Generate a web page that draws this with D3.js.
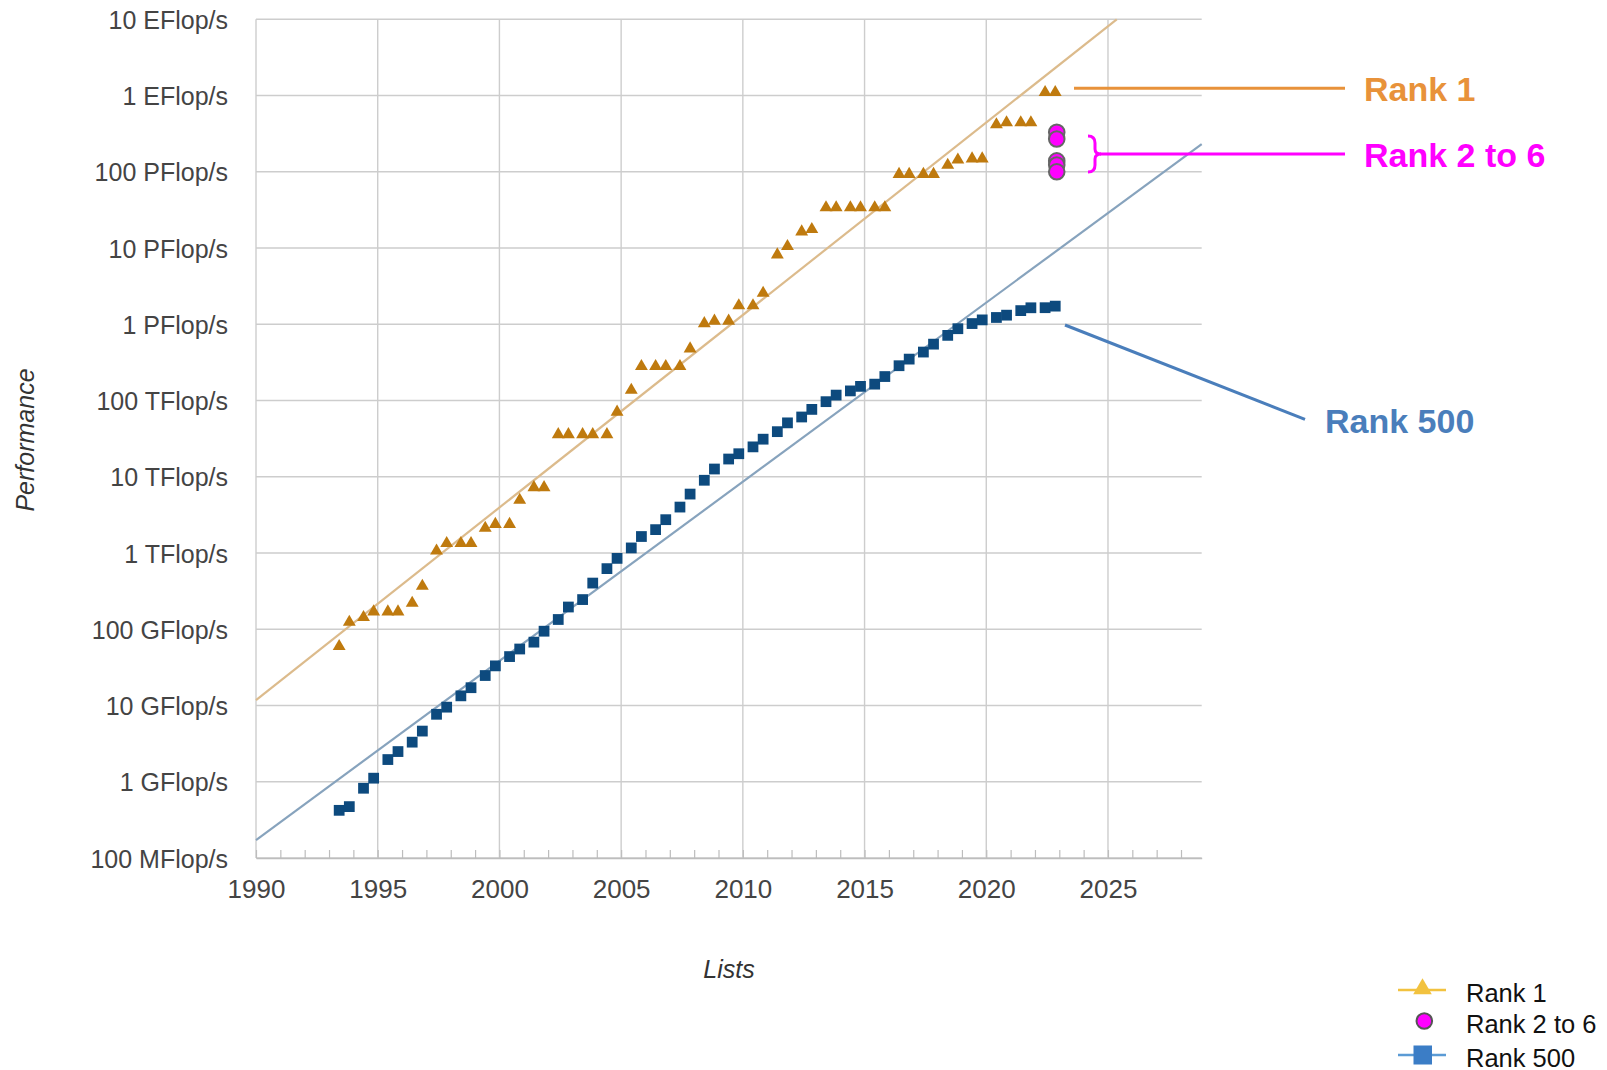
<!DOCTYPE html>
<html><head><meta charset="utf-8">
<script src="https://cdn.jsdelivr.net/npm/d3@7"></script>
<style>
body{margin:0;background:#fff;}
svg{display:block;font-family:"Liberation Sans",Arial,sans-serif;}
</style>
</head><body>
<svg id="chart" width="1607" height="1070"></svg>
<script>
// ---------- data ----------
const lists = ["1993-06","1993-11","1994-06","1994-11","1995-06","1995-11","1996-06","1996-11","1997-06","1997-11",
"1998-06","1998-11","1999-06","1999-11","2000-06","2000-11","2001-06","2001-11","2002-06","2002-11",
"2003-06","2003-11","2004-06","2004-11","2005-06","2005-11","2006-06","2006-11","2007-06","2007-11",
"2008-06","2008-11","2009-06","2009-11","2010-06","2010-11","2011-06","2011-11","2012-06","2012-11",
"2013-06","2013-11","2014-06","2014-11","2015-06","2015-11","2016-06","2016-11","2017-06","2017-11",
"2018-06","2018-11","2019-06","2019-11","2020-06","2020-11","2021-06","2021-11","2022-06","2022-11"];
// GFlop/s
const rank1 = [59.7,124,143.4,170,170,170,220.4,368.2,1068,1338,
1338,1338,2121,2379,2379,4938,7226,7226,35860,35860,
35860,35860,35860,70720,136800,280600,280600,280600,280600,478200,
1026000,1105000,1105000,1759000,1759000,2566000,8162000,10510000,16320000,17590000,
33860000,33860000,33860000,33860000,33860000,33860000,93010000,93010000,93010000,93010000,
122300000,143500000,148600000,148600000,415530000,442010000,442010000,442010000,1102000000,1102000000];
const rank500 = [0.4219,0.472,0.822,1.114,1.955,2.489,3.306,4.619,7.67,9.513,
13.39,17.12,24.73,33.11,43.82,55.09,67.78,94.3,134.3,195.8,
245.1,403.4,624,850.6,1166,1646,2026,2737,4005,5929,
9000,12640,17090,20050,24670,31120,39060,50940,60820,76500,
96620,117800,133700,153400,164000,206300,286100,349300,432200,548700,
715600,874800,1022000,1142000,1228000,1317000,1511000,1646000,1650000,1730000];
const rank2to6List = "2022-11";
const rank2to6 = [330e6, 269e6, 139e6, 123e6, 100e6];
// trend lines: [year, GFlop/s]
const rank1Trend = [[1990, 11.8], [2025.36, 1e10]];
const rank500Trend = [[1990, 0.172], [2028.85, 2.31e8]];
const yTickValues = [0.1,1,10,100,1e3,1e4,1e5,1e6,1e7,1e8,1e9,1e10];
const yTickLabels = ["100 MFlop/s","1 GFlop/s","10 GFlop/s","100 GFlop/s","1 TFlop/s","10 TFlop/s","100 TFlop/s","1 PFlop/s","10 PFlop/s","100 PFlop/s","1 EFlop/s","10 EFlop/s"];
const xTickValues = [1990,1995,2000,2005,2010,2015,2020,2025];
const xMinorTicks = d3.range(1990, 2029, 1);
const legendLabels = ["Rank 1","Rank 2 to 6","Rank 500"];
const calloutLabels = ["Rank 1","Rank 2 to 6","Rank 500"];

// ---------- layout ----------
const L = 256, R = 1201.7, T = 19.3, B = 858;
const svg = d3.select("#chart");
const x = d3.scaleLinear().domain([1990, 2028.85]).range([L, R]);
const y = d3.scaleLog().domain([0.1, 1e10]).range([B, T]);
const listYear = s => +s.slice(0,4) + (+s.slice(5) - 1) / 12;

// gridlines
const grid = svg.append("g");
grid.selectAll(".hg").data(yTickValues).join("line")
  .attr("x1", L).attr("x2", R).attr("y1", d => y(d)).attr("y2", d => y(d))
  .attr("stroke", "#cdcdcd").attr("stroke-width", 1.4);
grid.selectAll(".vg").data(xTickValues).join("line")
  .attr("x1", d => x(d)).attr("x2", d => x(d)).attr("y1", T).attr("y2", B)
  .attr("stroke", "#cdcdcd").attr("stroke-width", 1.4);

// x axis minor ticks
const xMinor = d3.axisBottom(x).tickValues(xMinorTicks).tickSizeInner(-8).tickSizeOuter(0).tickFormat("");
const gxm = svg.append("g").attr("transform", `translate(0,${B})`).call(xMinor);
gxm.select(".domain").attr("stroke", "#bdbdbd").attr("stroke-width", 1.4);
gxm.selectAll(".tick line").attr("stroke", "#bdbdbd").attr("stroke-width", 1.2);

// x axis labels
const xAxis = d3.axisBottom(x).tickValues(xTickValues).tickSize(0).tickPadding(0).tickFormat(d3.format("d"));
const gx = svg.append("g").attr("transform", `translate(0,${B})`).call(xAxis);
gx.select(".domain").remove();
gx.selectAll(".tick text").attr("y", 40).attr("dy", null)
  .attr("font-size", 26).attr("fill", "#444").attr("font-family", "'Liberation Sans',Arial,sans-serif");

// y axis labels
const yAxis = d3.axisLeft(y).tickValues(yTickValues).tickSize(0).tickPadding(0)
  .tickFormat((d, i) => yTickLabels[i]);
const gy = svg.append("g").attr("transform", `translate(${L},0)`).call(yAxis);
gy.select(".domain").remove();
gy.selectAll(".tick text").attr("x", -28).attr("dy", "0.36em")
  .attr("font-size", 25).attr("fill", "#444").attr("font-family", "'Liberation Sans',Arial,sans-serif");

// axis titles
svg.append("text").attr("transform", "translate(34,440) rotate(-90)")
  .attr("text-anchor", "middle").attr("font-size", 25).attr("font-style", "italic").attr("fill", "#333")
  .text("Performance");
svg.append("text").attr("x", 729).attr("y", 978)
  .attr("text-anchor", "middle").attr("font-size", 25).attr("font-style", "italic").attr("fill", "#333")
  .text("Lists");

// trend lines
const lineGen = d3.line().x(d => x(d[0])).y(d => y(d[1]));
svg.append("path").attr("d", lineGen(rank1Trend)).attr("fill", "none")
  .attr("stroke", "#dcbb8c").attr("stroke-width", 2.2);
svg.append("path").attr("d", lineGen(rank500Trend)).attr("fill", "none")
  .attr("stroke", "#87a3bd").attr("stroke-width", 2.2);

// rank 1 triangles
const tri = d3.symbol(d3.symbolTriangle, 72)();
svg.append("g").selectAll("path").data(lists.map((l, i) => [listYear(l), rank1[i]])).join("path")
  .attr("d", tri).attr("transform", d => `translate(${x(d[0])},${y(d[1])})`)
  .attr("fill", "#bf7a0e");

// rank 500 squares
const sq = d3.symbol(d3.symbolSquare, 116)();
svg.append("g").selectAll("path").data(lists.map((l, i) => [listYear(l), rank500[i]])).join("path")
  .attr("d", sq).attr("transform", d => `translate(${x(d[0])},${y(d[1])})`)
  .attr("fill", "#0d4a7e");

// rank 2 to 6 circles
svg.append("g").selectAll("circle").data(rank2to6).join("circle")
  .attr("cx", x(listYear(rank2to6List)) + 1.5).attr("cy", d => y(d)).attr("r", 7.8)
  .attr("fill", "#ff00ff").attr("stroke", "#666").attr("stroke-width", 2);

// callouts
svg.append("line").attr("x1", 1074).attr("x2", 1345).attr("y1", 88.3).attr("y2", 88.3)
  .attr("stroke", "#e8923a").attr("stroke-width", 3);
svg.append("text").attr("x", 1364).attr("y", 101).attr("font-size", 34).attr("font-weight", "bold")
  .attr("fill", "#e8923a").text(calloutLabels[0]);

svg.append("path").attr("d", "M1088,136 Q1095,136 1095,143 L1095,149 Q1095,154 1101,154 Q1095,154 1095,159 L1095,165 Q1095,172 1088,172")
  .attr("fill", "none").attr("stroke", "#ff00ff").attr("stroke-width", 3);
svg.append("line").attr("x1", 1100).attr("x2", 1345).attr("y1", 154).attr("y2", 154)
  .attr("stroke", "#ff00ff").attr("stroke-width", 3);
svg.append("text").attr("x", 1364).attr("y", 166.5).attr("font-size", 34).attr("font-weight", "bold")
  .attr("fill", "#ff00ff").text(calloutLabels[1]);

svg.append("line").attr("x1", 1065).attr("y1", 325).attr("x2", 1305).attr("y2", 419.3)
  .attr("stroke", "#4a7ebb").attr("stroke-width", 3);
svg.append("text").attr("x", 1325).attr("y", 433.3).attr("font-size", 34).attr("font-weight", "bold")
  .attr("fill", "#4a7ebb").text(calloutLabels[2]);

// legend
const lg = svg.append("g");
const rows = [990, 1021, 1055];
lg.append("line").attr("x1", 1398).attr("x2", 1446).attr("y1", rows[0]).attr("y2", rows[0])
  .attr("stroke", "#f2c23f").attr("stroke-width", 2.5);
lg.append("path").attr("d", d3.symbol(d3.symbolTriangle, 150)()).attr("transform", `translate(1422.5,${rows[0]-1})`)
  .attr("fill", "#f2c23f");
lg.append("circle").attr("cx", 1424.3).attr("cy", rows[1]).attr("r", 7.8)
  .attr("fill", "#ff00ff").attr("stroke", "#555").attr("stroke-width", 2);
lg.append("line").attr("x1", 1398).attr("x2", 1446).attr("y1", rows[2]).attr("y2", rows[2])
  .attr("stroke", "#5b9bd5").attr("stroke-width", 2.5);
lg.append("rect").attr("x", 1413.5).attr("y", rows[2]-9.5).attr("width", 18.5).attr("height", 19)
  .attr("fill", "#3b7dc6");
lg.selectAll("text").data(legendLabels).join("text")
  .attr("x", 1466).attr("y", (d, i) => rows[i] + 11.5)
  .attr("font-size", 25.5).attr("fill", "#111").text(d => d);
</script>
</body></html>
